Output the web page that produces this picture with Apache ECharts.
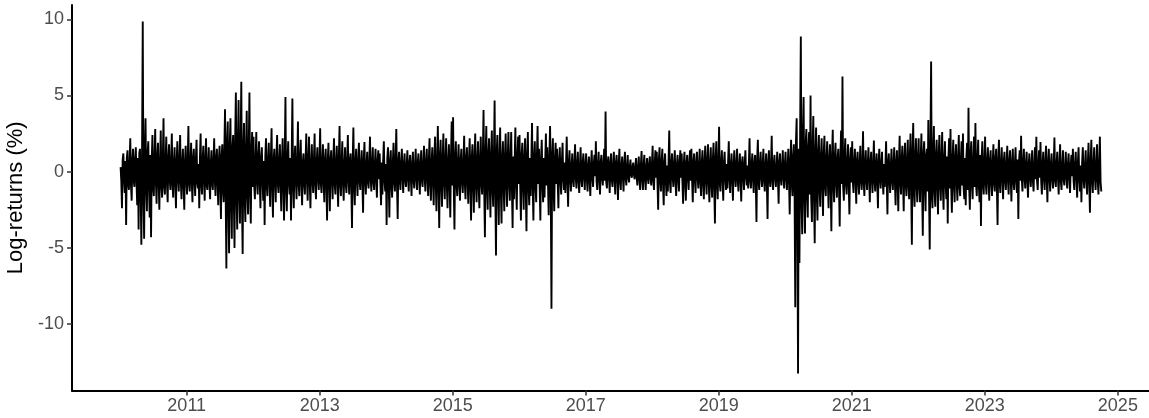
<!DOCTYPE html>
<html>
<head>
<meta charset="utf-8">
<script src="https://cdn.jsdelivr.net/npm/echarts@6.0.0/dist/echarts.min.js"></script>
<style>
  html, body { margin: 0; padding: 0; background: #fff; }
  #chart { width: 1149px; height: 418px; }
</style>
</head>
<body>
<div id="chart"></div>
<script>
// Daily log-returns (%), sampled per year; values spread evenly across each year
const r2010 = [0.3,-0.6,-2.4,0.8,1.2,-0.5,-1.4,0.7,-3.5,0.9,1.4,-0.8,-1.2,0.6,2.2,-0.9,-1.9,0.7,1.5,-0.6,-1.0,0.8,1.6,-0.7,-2.2,0.9,-3.8,1.2,1.5,-1.4,-4.8,1.1,9.85,-1.5,-4.4,1.3,3.5,-1.0,-2.6,1.2,2.0,-0.9,-3.0,1.1,-4.3,0.8,2.4,-1.0,-1.6,0.9,2.8,-0.7,-2.1,1.0,1.9,-0.8,-2.5,0.6,2.7,-0.9,-1.7,0.8,3.5,-1.0,-1.5,0.7,2.3,-0.8,-2.0,0.9,1.8,-0.6,-1.2,0.7,2.5,-0.9,-1.7,0.6,1.6,-0.8,-2.4,0.7,2.0,-0.5,-1.3,0.8,2.4,-0.7,-1.8,0.6,1.5,-0.9,-2.5,0.7,1.7,-0.6];
const r2011 = [-1.5,0.7,3.0,-0.8,-1.3,0.6,1.9,-0.7,-2.0,0.9,1.5,-0.6,-1.6,0.8,2.1,-0.7,-1.1,0.5,-2.4,0.9,2.5,-0.8,-1.5,0.7,1.7,-0.6,-1.9,0.8,2.2,-0.9,-1.2,0.6,1.6,-0.7,-1.8,0.5,1.4,-0.8,-1.2,0.7,2.2,-0.6,-1.6,0.9,1.5,-0.7,-2.2,0.8,1.7,-0.9,-3.1,1.0,1.8,-1.2,-2.0,1.4,4.1,-1.8,-6.35,2.0,3.3,-2.2,-5.35,1.8,3.5,-2.0,-4.4,1.6,2.4,-1.9,-5.0,2.2,5.2,-1.7,-3.8,2.0,4.7,-1.6,-3.4,1.8,5.9,-2.1,-5.4,1.5,3.2,-1.8,-3.3,1.4,4.0,-1.5,-2.8,1.6,5.2,-1.3,-3.4,1.2,2.6,-1.0];
const r2012 = [2.3,-0.9,-1.8,0.8,2.6,-0.7,-1.5,1.0,2.0,-0.8,-2.4,0.9,1.6,-0.6,-1.9,0.7,-3.5,1.0,2.2,-0.9,-1.6,0.8,1.9,-0.7,-2.3,0.9,2.85,-1.0,-3.0,0.8,1.5,-0.6,-2.0,0.9,2.4,-0.8,-1.4,0.7,1.8,-0.9,-2.6,0.8,2.2,-1.0,-3.2,0.9,4.9,-1.1,-2.6,0.8,2.0,-0.7,-1.5,0.9,-3.2,1.0,4.8,-0.9,-2.4,0.8,1.7,-0.6,-1.8,0.7,3.3,-0.8,-1.6,0.9,2.1,-0.7,-2.2,0.6,1.2,-0.8,-1.5,0.7,2.5,-0.6,-1.9,0.8,2.3,-0.7,-2.4,0.5,1.8,-0.6,-1.4,0.7,2.5,-0.8,-1.8,0.6,1.6,-0.5,-1.2,0.7];
const r2013 = [2.85,-0.8,-1.4,0.6,1.8,-0.7,-2.0,0.8,1.5,-0.9,-3.2,0.7,1.9,-0.6,-2.6,0.8,1.4,-0.5,-1.8,0.7,2.2,-0.8,-1.5,0.6,1.7,-0.7,-2.3,0.9,3.0,-0.8,-1.6,0.6,2.0,-0.7,-1.9,0.5,1.6,-0.8,-1.4,0.7,2.4,-0.6,-1.5,0.8,1.2,-0.9,-3.7,0.7,2.9,-0.8,-2.2,0.6,1.5,-0.5,-1.6,0.7,1.9,-0.6,-1.2,0.5,1.4,-0.7,-2.7,0.8,1.95,-0.6,-1.5,0.5,1.3,-0.7,-1.1,0.6,2.3,-0.5,-1.3,0.6,1.6,-0.7,-1.2,0.5,1.5,-0.6,-1.7,0.7,1.4,-0.5,1.2,-0.8,-2.2,0.6,-1.5,0.7,2.0,-0.6,-1.3,0.5];
const r2014 = [-3.5,0.9,1.6,-0.8,-3.0,0.7,1.4,-0.9,-1.7,0.6,1.9,-0.7,-1.3,0.8,2.8,-0.9,-3.1,0.7,1.3,-0.5,-1.2,0.6,1.5,-0.4,-1.4,0.5,1.2,-0.6,-1.0,0.4,1.4,-0.5,-1.3,0.6,1.1,-0.4,-1.6,0.5,1.3,-0.6,-1.1,0.4,1.5,-0.5,-1.2,0.6,1.2,-0.4,-1.5,0.5,1.4,-0.6,-1.0,0.5,1.7,-0.4,-1.3,0.6,1.5,-0.5,-1.6,0.7,2.2,-0.8,-1.9,0.6,1.6,-0.7,-2.2,0.9,2.3,-0.8,-2.6,0.7,3.0,-0.9,-3.7,1.0,2.1,-0.8,-2.3,0.9,2.5,-0.7,-1.8,0.8,2.2,-0.9,-2.4,0.7,1.8,-0.8,-3.0,1.0,3.3,-0.9];
const r2015 = [3.57,-1.0,-3.8,0.9,2.0,-0.8,-1.6,0.7,1.8,-0.9,-1.9,0.8,1.5,-0.7,-1.4,0.6,2.35,-0.8,-1.8,0.9,1.6,-0.7,-2.1,0.8,2.2,-1.0,-3.2,0.9,1.8,-0.8,-2.7,1.0,2.5,-0.9,-2.0,0.8,2.0,-1.0,-2.4,0.9,2.3,-0.8,-1.5,1.0,4.05,-1.2,-4.3,1.1,3.0,-1.0,-2.5,1.2,2.2,-0.9,-3.0,1.1,2.7,-1.2,-2.3,1.0,4.67,-1.3,-5.5,1.2,2.4,-1.1,-3.5,1.0,2.9,-1.2,-3.4,0.9,2.0,-1.0,-2.6,1.1,2.5,-0.9,-2.3,1.0,2.6,-0.8,-1.9,0.9,2.6,-1.1,-3.7,1.0,-1.8,0.8,2.9,-0.9,-2.5,1.0,2.3,-0.8];
const r2016 = [2.4,-1.0,-3.2,1.1,1.9,-0.9,-2.5,1.0,2.2,-1.2,-3.9,1.1,2.6,-1.0,-2.2,0.9,-1.6,0.8,3.2,-1.1,-3.2,1.0,2.0,-0.9,-2.0,1.0,3.0,-0.8,1.5,-1.0,-3.2,0.9,2.1,-0.8,-2.0,0.9,-1.7,0.7,2.5,-0.9,1.6,-0.8,-2.85,1.0,3.0,-1.2,-9.0,1.1,2.2,-1.0,-2.6,0.9,1.9,-0.8,1.5,-0.7,-2.4,0.8,1.6,-0.6,-1.5,0.7,1.9,-0.5,-1.2,0.6,-1.4,0.5,2.3,-0.7,-2.3,0.6,1.4,-0.5,-1.3,0.4,1.2,-0.6,-1.0,0.5,1.8,-0.4,-1.1,0.5,1.3,-0.6,-1.4,0.4,1.6,-0.5,-1.0,0.6,1.2,-0.4,-1.2,0.5];
const r2017 = [1.2,-0.5,-1.3,0.4,1.0,-0.6,-1.6,0.5,1.4,-0.4,-1.0,0.5,1.1,-0.3,2.0,-0.6,-1.2,0.4,1.3,-0.5,-1.5,0.6,1.1,-0.4,-0.9,0.5,1.5,-0.6,3.95,-0.7,-1.1,0.5,1.0,-0.4,-1.4,0.6,1.2,-0.5,-1.0,0.4,1.3,-0.5,-1.5,0.6,1.1,-0.4,-1.85,0.5,1.5,-0.6,-1.2,0.4,1.0,-0.3,-1.3,0.5,1.3,-0.4,-0.9,0.3,1.1,-0.4,-0.7,0.3,0.8,-0.2,-0.4,0.3,0.6,-0.2,-0.5,0.3,0.9,-0.4,-0.9,0.3,1.0,-0.5,-1.2,0.4,1.35,-0.5,-1.2,0.4,1.1,-0.5,-1.2,0.3,0.9,-0.4,-0.8,0.5,1.0,-0.4,-0.9,0.5];
const r2018 = [1.7,-0.6,-1.2,0.5,1.4,-0.4,1.3,-0.7,-2.5,0.8,1.6,-0.6,-1.3,0.7,1.5,-0.8,-2.2,0.6,1.2,-0.5,-1.6,0.4,-1.3,0.6,2.7,-0.7,-1.4,0.5,1.2,-0.4,-1.0,0.5,1.4,-0.6,-1.6,0.4,1.1,-0.5,-1.3,0.6,1.4,-0.4,1.2,-0.6,-2.1,0.5,1.3,-0.7,-1.9,0.6,1.1,-0.4,-1.2,0.5,1.4,-0.6,1.5,-0.5,-2.0,0.7,1.2,-0.5,-1.4,0.6,1.3,-0.4,-1.1,0.5,1.5,-0.7,-1.6,0.6,1.4,-0.8,-1.8,0.7,1.7,-0.6,-1.5,0.8,1.8,-0.7,-2.0,0.6,1.6,-0.9,-1.7,0.8,1.9,-1.0,-3.4,0.9,2.0,-0.8,-1.8,0.7];
const r2019 = [2.95,-0.8,-1.3,0.6,1.4,-0.5,-1.9,0.6,1.3,-0.4,-1.2,0.5,-1.1,0.6,2.0,-0.5,-1.4,0.4,1.2,-0.6,-1.9,0.5,1.4,-0.4,-1.0,0.5,1.5,-0.6,-1.3,0.4,1.2,-0.5,-1.95,0.6,1.0,-0.4,-1.2,0.5,1.4,-0.3,-0.9,0.4,-1.1,0.5,2.2,-0.6,-1.1,0.4,1.2,-0.5,-1.4,0.6,1.1,-0.7,-3.3,0.8,2.1,-0.6,-1.2,0.5,1.3,-0.4,-1.0,0.5,1.5,-0.6,-1.3,0.4,1.2,-0.7,-3.1,0.6,1.4,-0.5,-1.0,0.4,2.35,-0.6,-1.2,0.5,1.1,-0.4,-1.0,0.3,1.3,-0.5,-2.1,0.6,1.2,-0.4,-0.9,0.3,1.4,-0.4,-1.1,0.5];
const r2020 = [1.3,-0.5,-1.2,0.4,1.5,-0.6,-2.8,0.7,2.1,-0.8,-1.6,1.0,1.8,-1.5,-8.9,2.0,3.5,-2.5,-13.25,1.5,-6.0,2.5,8.87,-2.0,-4.1,2.2,4.9,-1.8,-4.05,1.9,2.8,-1.6,-3.0,1.7,2.6,-1.5,5.0,-1.8,-3.3,1.6,3.66,-1.7,-4.7,1.4,2.9,-1.5,-3.2,1.3,2.4,-1.2,-2.3,1.1,2.2,-1.0,-2.9,1.2,2.35,-1.0,-1.6,0.9,2.0,-0.8,-2.4,0.9,1.8,-1.0,-3.9,1.1,2.75,-0.9,-2.0,1.0,1.9,-0.8,-1.7,0.9,1.5,-1.0,-3.6,0.9,2.7,-0.8,6.25,-1.0,-1.9,0.9,2.2,-0.8,-1.5,0.7,1.8,-0.9,-2.8,0.8,1.6,-0.7];
const r2021 = [2.0,-0.7,-1.4,0.6,1.5,-0.5,-2.1,0.7,1.3,-0.6,-1.5,0.5,1.7,-0.6,-1.2,0.4,2.65,-0.7,-1.6,0.5,1.4,-0.6,-1.2,0.5,1.6,-0.4,-2.0,0.6,1.3,-0.5,-1.4,0.4,2.05,-0.6,-1.3,0.5,1.2,-0.7,-2.4,0.6,1.5,-0.4,-1.1,0.5,1.3,-0.6,-1.5,0.5,-1.0,0.4,2.0,-0.7,-2.8,0.6,1.2,-0.5,-1.4,0.4,1.5,-0.6,-1.2,0.5,1.6,-0.7,-2.2,0.6,1.4,-0.8,-2.6,0.7,2.35,-0.6,-1.5,0.8,1.7,-0.7,-2.6,0.9,1.9,-0.8,-1.6,0.7,2.1,-0.9,-1.8,1.0,2.5,-1.2,-4.8,1.3,3.2,-1.1,-2.3,1.0,2.2,-0.9,-2.0,1.0];
const r2022 = [2.2,-1.0,-2.0,0.9,2.5,-1.1,-4.2,1.2,2.0,-1.0,-2.6,1.1,1.5,-1.3,3.4,-1.5,-5.1,1.4,7.23,-1.6,-2.4,1.2,3.0,-1.3,-2.3,1.1,2.1,-1.0,-2.8,1.2,2.4,-0.9,-1.9,1.0,2.6,-1.1,-2.5,0.9,2.0,-0.8,-1.8,1.0,-3.4,0.9,2.2,-1.1,2.8,-1.0,-2.7,0.8,2.1,-0.9,-2.0,1.0,1.8,-0.8,-1.9,0.9,2.4,-1.0,-1.6,0.8,2.0,-0.9,2.5,-1.1,-1.8,0.9,-2.2,1.0,1.9,-1.2,4.2,-1.0,-2.5,1.1,2.0,-0.9,-1.8,0.8,2.3,-1.0,3.2,-0.9,-1.6,0.8,2.1,-1.0,-2.0,1.1,-3.57,0.9,2.0,-0.8,-1.5,0.7];
const r2023 = [2.3,-0.8,-1.5,0.7,1.6,-0.6,-1.9,0.8,1.4,-0.7,-1.6,0.6,1.8,-0.8,-1.3,0.9,1.5,-1.0,-3.5,0.8,2.1,-0.7,-1.4,0.6,1.6,-0.5,-1.8,0.7,1.3,-0.6,-1.2,0.5,1.7,-0.6,-1.5,0.7,1.4,-0.5,-1.95,0.6,1.5,-0.7,-1.2,0.5,1.6,-0.6,-1.4,0.8,-3.1,0.7,1.4,-0.6,2.35,-0.5,-1.3,0.6,1.5,-0.4,-1.1,0.5,1.3,-0.6,-1.7,0.5,1.2,-0.4,-1.0,0.5,1.4,-0.6,-1.3,0.4,1.6,-0.5,2.3,-0.6,-1.2,0.5,1.4,-0.4,1.95,-0.6,-1.5,0.5,1.3,-0.4,-1.2,0.6,1.7,-0.5,-2.0,0.6,1.5,-0.4,-1.3,0.5];
const r2024 = [1.2,-0.5,-1.1,0.4,2.25,-0.6,-1.0,0.5,1.3,-0.4,-1.5,0.5,1.8,-0.6,-1.2,0.4,1.4,-0.5,-0.9,0.3,1.3,-0.4,-1.1,0.5,1.2,-0.4,-1.4,0.5,1.1,-0.3,1.5,-0.6,-1.2,0.5,1.3,-0.4,-1.7,0.6,1.6,-0.5,-1.3,0.4,-2.0,0.6,1.6,-0.5,-1.1,0.4,1.4,-0.6,-1.5,0.5,1.9,-0.7,-2.7,0.8,2.1,-0.6,-1.4,0.5,1.6,-0.4,-1.2,0.5,1.8,-0.6,-1.5,0.5,2.3,-0.7,-1.3];

const yearBlocks = [
  [2010, r2010], [2011, r2011], [2012, r2012], [2013, r2013], [2014, r2014],
  [2015, r2015], [2016, r2016], [2017, r2017], [2018, r2018], [2019, r2019],
  [2020, r2020], [2021, r2021], [2022, r2022], [2023, r2023], [2024, r2024]
];
const lastDate = '2024-10-04';
const tickYears = [2011, 2013, 2015, 2017, 2019, 2021, 2023, 2025];
const yTicks = [-10, -5, 0, 5, 10];

// x values are UTC timestamps (ms) on a linear axis
const lastTime = Date.parse(lastDate + 'T00:00:00Z');
const seriesData = [];
yearBlocks.forEach(([year, values]) => {
  const start = Date.UTC(year, 0, 1);
  const end = Math.min(Date.UTC(year + 1, 0, 1), lastTime);
  const step = (end - start) / values.length;
  values.forEach((v, i) => seriesData.push([start + (i + 0.5) * step, v]));
});
const tickTimes = tickYears.map(y => Date.UTC(y, 0, 1));

const font = '"Liberation Sans", Arial, Helvetica, sans-serif';
const chart = echarts.init(document.getElementById('chart'), null, { renderer: 'canvas' });
chart.setOption({
  animation: false,
  backgroundColor: '#ffffff',
  grid: { left: 72, right: 0, top: 5, bottom: 27.5, containLabel: false, outerBoundsMode: 'none' },
  xAxis: {
    type: 'value',
    min: Date.UTC(2009, 3, 11),
    max: Date.UTC(2025, 5, 21),
    splitLine: { show: false },
    axisLine: { show: true, onZero: false, lineStyle: { color: '#000', width: 2 } },
    axisTick: { show: true, customValues: tickTimes, length: 5, lineStyle: { color: '#333', width: 1.5 } },
    axisLabel: {
      customValues: tickTimes,
      formatter: v => String(new Date(v).getUTCFullYear()),
      color: '#4D4D4D', fontSize: 18, fontFamily: font, margin: 7
    }
  },
  yAxis: {
    type: 'value',
    min: -14.36,
    max: 10.94,
    splitLine: { show: false },
    axisLine: { show: true, onZero: false, lineStyle: { color: '#000', width: 2 } },
    axisTick: { show: true, customValues: yTicks, length: 5, lineStyle: { color: '#333', width: 1.5 } },
    axisLabel: { customValues: yTicks, color: '#4D4D4D', fontSize: 18, fontFamily: font, margin: 8 },
    name: 'Log-returns (%)',
    nameLocation: 'middle',
    nameGap: 30,
    nameTextStyle: { color: '#000', fontSize: 22, fontFamily: font }
  },
  series: [{
    type: 'line',
    data: seriesData,
    showSymbol: false,
    silent: true,
    lineStyle: { color: '#000', width: 1.9 }
  }]
});
</script>
</body>
</html>
